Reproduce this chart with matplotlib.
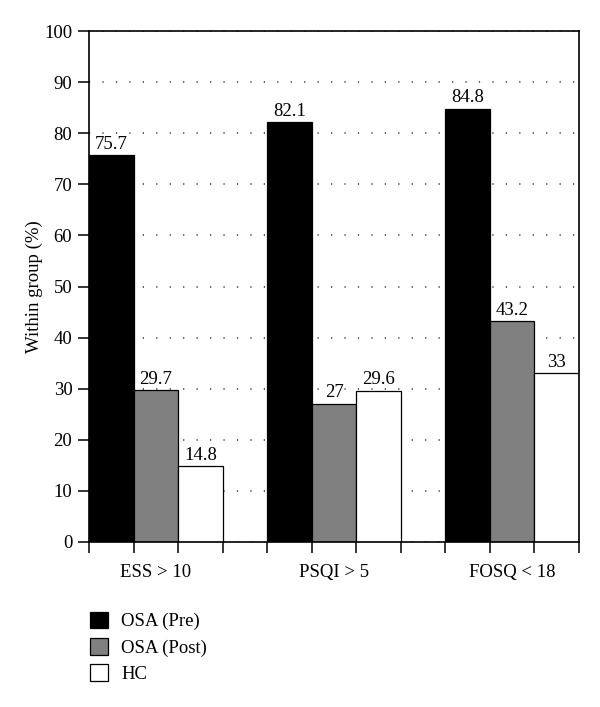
import matplotlib
matplotlib.use("Agg")
import matplotlib.pyplot as plt
from matplotlib.patches import Patch

plt.rcParams['font.family'] = ['Liberation Serif', 'DejaVu Serif']

categories = ["ESS > 10", "PSQI > 5", "FOSQ < 18"]
series_names = ["OSA (Pre)", "OSA (Post)", "HC"]
pre = [75.7, 82.1, 84.8]
post = [29.7, 27, 43.2]
hc = [14.8, 29.6, 33]
labels_pre = ["75.7", "82.1", "84.8"]
labels_post = ["29.7", "27", "43.2"]
labels_hc = ["14.8", "29.6", "33"]
yticks = [0, 10, 20, 30, 40, 50, 60, 70, 80, 90, 100]

colors = ["#000000", "#808080", "#ffffff"]
series = [pre, post, hc]
series_labels = [labels_pre, labels_post, labels_hc]

FS = 13.5

fig = plt.figure(figsize=(6.0, 7.07), dpi=100)
ax = fig.add_axes([89/600, 1-542/707, (579-89)/600, (542-31)/707])

for s, (vals, labs) in enumerate(zip(series, series_labels)):
    xs = [4*g + s + 0.5 for g in range(len(categories))]
    ax.bar(xs, vals, width=1.0, color=colors[s], edgecolor="black", linewidth=0.9, zorder=2)
    for x, v, lab in zip(xs, vals, labs):
        ax.text(x, v + 0.5, lab, ha="center", va="bottom", fontsize=FS, zorder=3,
                bbox=dict(facecolor="white", edgecolor="none", pad=0.2))

ax.set_xlim(0, 11)
ax.set_ylim(0, 100)
ax.set_yticks(yticks)
ax.set_yticklabels([str(t) for t in yticks], fontsize=FS)
ax.set_xticks(list(range(12)))
ax.set_xticklabels([])
ax.set_xticks([4*g + 1.5 for g in range(len(categories))], minor=True)
ax.set_xticklabels(categories, minor=True, fontsize=FS)
ax.tick_params(axis="x", which="minor", length=0, pad=16)
ax.tick_params(axis="both", which="major", direction="out", length=8, width=1.1)
ax.tick_params(axis="y", pad=4)

ax.set_axisbelow(True)
ax.yaxis.grid(True, linestyle=(0, (0.8, 8)), color="#333333", linewidth=1.1)
for sp in ax.spines.values():
    sp.set_linewidth(1.2)

ax.set_ylabel("Within group (%)", fontsize=FS, labelpad=1)

handles = [Patch(facecolor=c, edgecolor="black", linewidth=0.9) for c in colors]
fig.legend(handles, series_names, loc="upper left", bbox_to_anchor=(82/600, 1-604/707),
           frameon=False, fontsize=FS, handlelength=1.0, handleheight=1.0,
           handletextpad=0.7, labelspacing=0.4, borderaxespad=0)

fig.savefig("out.png", dpi=100)
